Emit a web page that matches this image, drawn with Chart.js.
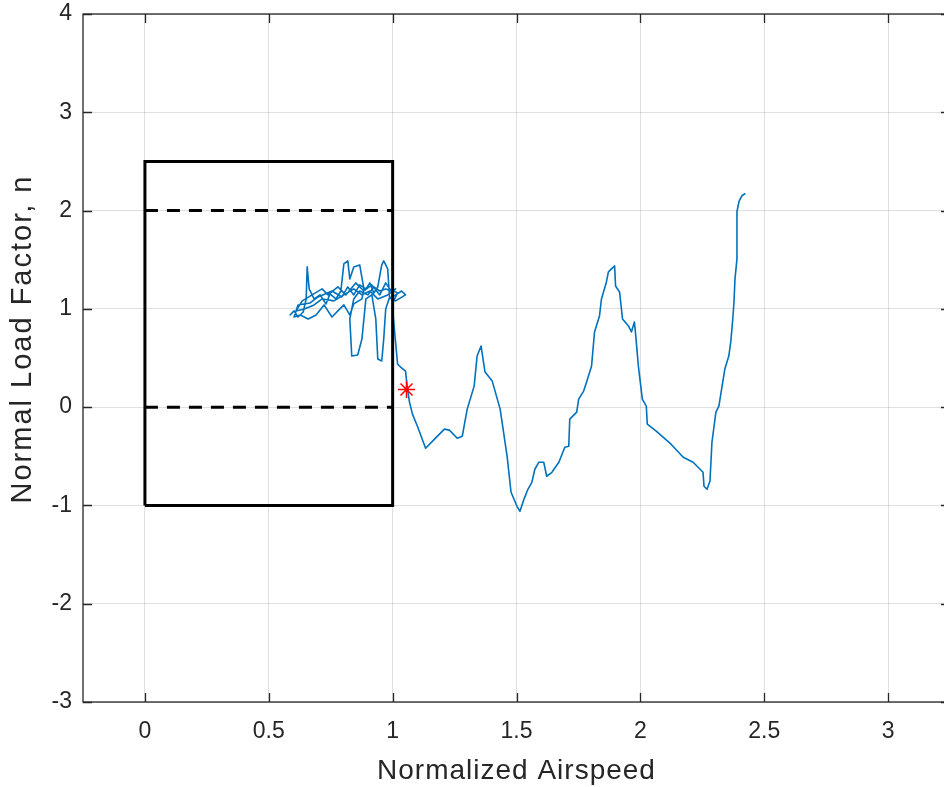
<!DOCTYPE html>
<html>
<head>
<meta charset="utf-8">
<title>Normal Load Factor vs Normalized Airspeed</title>
<script src="https://cdn.jsdelivr.net/npm/chart.js@4.4.1/dist/chart.umd.min.js"></script>
<style>
  html, body { margin: 0; padding: 0; background: #fff; overflow: hidden; }
  #wrap { width: 960px; height: 787px; }
</style>
</head>
<body>
<div id="wrap"><canvas id="chart" width="960" height="787"></canvas></div>
<script>
// tick labels
const xTicks = [0, 0.5, 1, 1.5, 2, 2.5, 3];
const yTicks = [-3, -2, -1, 0, 1, 2, 3, 4];
const xTitle = "Normalized Airspeed";
const yTitle = "Normal Load Factor, n";

// envelope box and the dashed limit lines
const boxX = [0, 0, 1, 1, 0];
const boxY = [-1, 2.5, 2.5, -1, -1];
const limitX = [0, 1];
const upperLimitY = [2, 2];
const lowerLimitY = [0, 0];

// flight trace
const traceX = [
  0.586, 0.602, 0.618, 0.639, 0.651, 0.655, 0.663, 0.683, 0.707, 0.731,
  0.747, 0.771, 0.791, 0.803, 0.819, 0.827, 0.843, 0.867, 0.884, 0.876,
  0.843, 0.827, 0.803, 0.779, 0.755, 0.723, 0.691, 0.659, 0.627, 0.602,
  0.618, 0.667, 0.699, 0.755, 0.795, 0.819, 0.843, 0.867, 0.892, 0.908,
  0.924, 0.940, 0.956, 0.964, 0.980, 0.988, 1.012, 1.036, 1.052, 1.012,
  0.988, 0.972, 0.964, 0.956, 0.940, 0.932, 0.916, 0.892, 0.876, 0.859,
  0.835, 0.827, 0.843, 0.867, 0.900, 0.924, 0.948, 0.972, 0.996, 1.012,
  0.980, 0.940, 0.908, 0.876, 0.843, 0.803, 0.763, 0.715, 0.683, 0.643,
  0.610, 0.635, 0.675, 0.715, 0.739, 0.779, 0.811, 0.851, 0.884, 0.916,
  0.948, 0.972, 0.988, 1.020, 1.004,
  1.004, 1.000, 1.008, 1.020, 1.032, 1.052, 1.060, 1.068, 1.080, 1.100,
  1.133, 1.169, 1.209, 1.229, 1.261, 1.281, 1.301, 1.329, 1.341, 1.357,
  1.373, 1.402, 1.434, 1.462, 1.478, 1.502, 1.514, 1.530, 1.546, 1.562,
  1.574, 1.590, 1.610, 1.622, 1.643, 1.671, 1.687, 1.695, 1.711, 1.715,
  1.735, 1.743, 1.751, 1.771, 1.783, 1.803, 1.815, 1.835, 1.843, 1.863,
  1.871, 1.892, 1.896, 1.900, 1.916, 1.928, 1.952, 1.964, 1.976, 1.980,
  1.992, 2.008, 2.024, 2.028, 2.064, 2.124, 2.173, 2.213, 2.253, 2.257,
  2.269, 2.281, 2.289, 2.305, 2.317, 2.341, 2.357, 2.365, 2.373, 2.378,
  2.382, 2.390, 2.390, 2.398, 2.410, 2.422
];
const traceY = [
  0.938, 0.979, 0.917, 0.968, 1.101, 1.427, 1.203, 1.101, 1.142, 1.050,
  1.152, 1.101, 1.182, 1.458, 1.488, 1.305, 1.427, 1.447, 1.203, 1.101,
  1.050, 0.938, 1.040, 0.979, 0.917, 1.040, 0.938, 0.897, 0.938, 0.917,
  1.040, 1.060, 1.121, 1.182, 1.121, 1.223, 1.142, 1.244, 1.203, 1.264,
  1.162, 1.223, 1.447, 1.488, 1.407, 1.101, 1.142, 1.182, 1.142, 1.081,
  1.121, 0.999, 0.693, 0.469, 0.489, 0.897, 1.142, 1.101, 0.693, 0.530,
  0.520, 0.897, 1.101, 1.182, 1.142, 1.223, 1.182, 1.203, 1.182, 1.203,
  1.142, 1.101, 1.182, 1.142, 1.203, 1.142, 1.081, 1.101, 1.040, 0.999,
  0.979, 1.081, 1.142, 1.203, 1.142, 1.223, 1.142, 1.264, 1.182, 1.244,
  1.142, 1.264, 1.203, 1.162, 1.081,
  1.101, 0.999, 0.765, 0.438, 0.408, 0.367, 0.183, 0.051, -0.071, -0.194,
  -0.418, -0.326, -0.224, -0.234, -0.316, -0.296, -0.020, 0.214, 0.520, 0.622,
  0.357, 0.265, -0.020, -0.499, -0.866, -1.009, -1.060, -0.938, -0.836, -0.765,
  -0.632, -0.561, -0.561, -0.703, -0.663, -0.561, -0.459, -0.408, -0.398, -0.122,
  -0.071, -0.051, 0.082, 0.163, 0.255, 0.418, 0.765, 0.928, 1.101, 1.274,
  1.376, 1.427, 1.437, 1.233, 1.172, 0.897, 0.826, 0.765, 0.866, 0.765,
  0.418, 0.082, 0.010, -0.173, -0.245, -0.377, -0.510, -0.561, -0.663, -0.805,
  -0.836, -0.754, -0.357, -0.051, 0.010, 0.387, 0.520, 0.663, 0.897, 1.070,
  1.305, 1.509, 1.988, 2.090, 2.151, 2.171
];

// red marker
const markerX = [1.056];
const markerY = [0.18];

const FONT = "'Liberation Sans', Arial, Helvetica, sans-serif";
const AXIS_COLOR = "#262626";

const toPoints = (xs, ys) => xs.map((x, i) => ({ x, y: ys[i] }));

// MATLAB-style box with inward ticks on all four sides, plus axis labels
const axesBox = {
  id: "axesBox",
  afterDraw(chart) {
    const { ctx, chartArea: a, scales } = chart;
    const len = 9;
    ctx.save();
    ctx.strokeStyle = AXIS_COLOR;
    ctx.lineWidth = 1.3;
    ctx.beginPath();
    xTicks.forEach((v) => {
      const px = Math.round(scales.x.getPixelForValue(v)) + 0.5;
      ctx.moveTo(px, a.bottom);
      ctx.lineTo(px, a.bottom - len);
      ctx.moveTo(px, a.top);
      ctx.lineTo(px, a.top + len);
    });
    yTicks.forEach((v) => {
      const py = Math.round(scales.y.getPixelForValue(v)) + 0.5;
      ctx.moveTo(a.left, py);
      ctx.lineTo(a.left + len, py);
      ctx.moveTo(a.right, py);
      ctx.lineTo(a.right - len, py);
    });
    ctx.stroke();
    ctx.strokeRect(a.left, a.top, a.right - a.left, a.bottom - a.top);

    // axis titles (MATLAB spacing is a bit wider than canvas default)
    ctx.fillStyle = AXIS_COLOR;
    ctx.textAlign = "center";
    ctx.textBaseline = "middle";
    ctx.font = `28px ${FONT}`;
    ctx.letterSpacing = "1px";
    ctx.fillText(xTitle, (a.left + a.right) / 2, 771);

    ctx.translate(23, 339);
    ctx.rotate(-Math.PI / 2);
    ctx.font = `29px ${FONT}`;
    ctx.letterSpacing = "2px";
    ctx.fillText(yTitle, 0, 0);
    ctx.restore();
  }
};

const chart = new Chart(document.getElementById("chart"), {
  type: "scatter",
  data: {
    datasets: [
      {
        data: toPoints(markerX, markerY),
        pointStyle: "star",
        radius: 8.5,
        borderColor: "#ff0000",
        backgroundColor: "#ff0000",
        borderWidth: 1.5,
        showLine: false,
        order: 0
      },
      {
        data: toPoints(boxX, boxY),
        showLine: true,
        borderColor: "#000000",
        borderWidth: 3,
        pointRadius: 0,
        borderJoinStyle: "miter",
        order: 1
      },
      {
        data: toPoints(limitX, upperLimitY),
        showLine: true,
        borderColor: "#000000",
        borderWidth: 3,
        borderDash: [13, 9],
        pointRadius: 0,
        order: 1
      },
      {
        data: toPoints(limitX, lowerLimitY),
        showLine: true,
        borderColor: "#000000",
        borderWidth: 3,
        borderDash: [13, 9],
        pointRadius: 0,
        order: 1
      },
      {
        data: toPoints(traceX, traceY),
        showLine: true,
        borderColor: "#0072BD",
        borderWidth: 1.6,
        pointRadius: 0,
        borderJoinStyle: "round",
        borderCapStyle: "round",
        order: 2
      }
    ]
  },
  options: {
    responsive: false,
    animation: false,
    layout: { padding: { top: 14, right: 5, left: 0, bottom: 0 } },
    plugins: {
      legend: { display: false },
      tooltip: { enabled: false }
    },
    scales: {
      x: {
        type: "linear",
        min: -0.25,
        max: 3.25,
        afterBuildTicks: (scale) => {
          scale.ticks = xTicks.map((v) => ({ value: v }));
        },
        afterFit: (scale) => {
          scale.height = 85;
          scale.paddingLeft = 0;
          scale.paddingRight = 0;
        },
        grid: { color: "rgba(38,38,38,0.15)", lineWidth: 1, drawTicks: false },
        border: { display: false },
        ticks: {
          padding: 16,
          color: AXIS_COLOR,
          font: { family: FONT, size: 23 },
          maxRotation: 0,
          callback: (v) => String(v)
        },
        title: { display: false }
      },
      y: {
        type: "linear",
        min: -3,
        max: 4,
        afterBuildTicks: (scale) => {
          scale.ticks = yTicks.map((v) => ({ value: v }));
        },
        afterFit: (scale) => {
          scale.width = 83;
          scale.paddingTop = 0;
          scale.paddingBottom = 0;
        },
        grid: { color: "rgba(38,38,38,0.15)", lineWidth: 1, drawTicks: false },
        border: { display: false },
        ticks: {
          padding: 11,
          color: AXIS_COLOR,
          font: { family: FONT, size: 23 },
          callback: (v) => String(v)
        },
        title: { display: false }
      }
    }
  },
  plugins: [axesBox]
});
</script>
</body>
</html>
